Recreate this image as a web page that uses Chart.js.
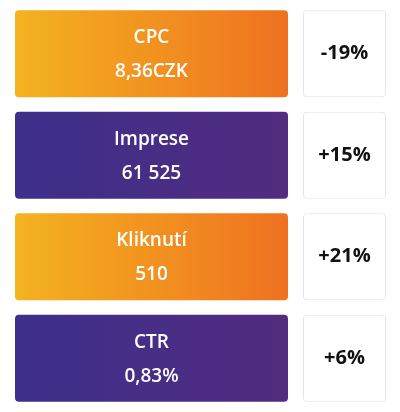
<!DOCTYPE html>
<html><head><meta charset="utf-8">
<script src="https://cdn.jsdelivr.net/npm/chart.js@4"></script>
<style>html,body{margin:0;padding:0;background:#fff}#w{width:400px;height:412px}</style>
</head><body><div id="w"><canvas id="c"></canvas></div>
<script>
const metrics = ["CPC", "Imprese", "Kliknutí", "CTR"];
const metricValues = ["8,36CZK", "61 525", "510", "0,83%"];
const changes = ["-19%", "+15%", "+21%", "+6%"];
const cardSpan = [15, 288];
const changeSpan = [303, 386];
const themes = ["orange", "purple", "orange", "purple"];

function grad(c) {
  const chart = c.chart, i = c.dataIndex;
  const solid = themes[i] === "orange" ? "#F29520" : "#472E86";
  const a = chart.chartArea;
  if (!a || !isFinite(a.left) || !isFinite(a.right)) return solid;
  const w = a.right - a.left;
  const x0 = a.left + cardSpan[0] / 400 * w, x1 = a.left + cardSpan[1] / 400 * w;
  if (!isFinite(x0) || !isFinite(x1)) return solid;
  const g = chart.ctx.createLinearGradient(x0, 0, x1, 0);
  if (themes[i] === "orange") { g.addColorStop(0, "#F4B320"); g.addColorStop(1, "#EF7120"); }
  else { g.addColorStop(0, "#3D2F8B"); g.addColorStop(1, "#522C7F"); }
  return g;
}
const textPlugin = {
  id: "texts",
  afterDatasetsDraw(chart) {
    const ctx = chart.ctx;
    ctx.save();
    ctx.textAlign = "center"; ctx.textBaseline = "middle";
    chart.getDatasetMeta(0).data.forEach((b, i) => {
      const cx = (b.x + b.base) / 2;
      ctx.fillStyle = "#fff";
      ctx.font = "600 19px 'Open Sans'";
      ctx.fillText(metrics[i], cx, b.y - 16);
      ctx.fillText(metricValues[i], cx, b.y + 18);
    });
    chart.getDatasetMeta(1).data.forEach((b, i) => {
      const cx = (b.x + b.base) / 2;
      ctx.fillStyle = "#111";
      ctx.font = "bold 20px 'Open Sans'";
      ctx.fillText(changes[i], cx, b.y);
    });
    ctx.restore();
  }
};
new Chart(document.getElementById("c"), {
  type: "bar",
  data: {
    labels: metrics,
    datasets: [
      { data: metrics.map(() => cardSpan), backgroundColor: grad,
        borderRadius: 4, borderSkipped: false, grouped: false, barPercentage: 0.857, categoryPercentage: 1 },
      { data: metrics.map(() => changeSpan), backgroundColor: "#fff", borderColor: "#e4e4e4", borderWidth: 1,
        borderRadius: 4, borderSkipped: false, grouped: false, barPercentage: 0.857, categoryPercentage: 1 }
    ]
  },
  options: {
    indexAxis: "y", responsive: true, maintainAspectRatio: false, animation: false,
    layout: { padding: { top: 3, bottom: 3, left: 0, right: 0 } },
    plugins: { legend: { display: false }, tooltip: { enabled: false } },
    scales: { x: { display: false, min: 0, max: 400 }, y: { display: false } }
  },
  plugins: [textPlugin]
});
</script></body></html>
